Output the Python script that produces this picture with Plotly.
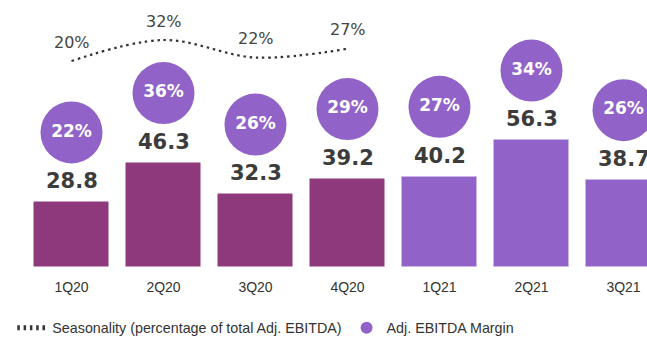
import plotly.graph_objects as go

# ---- data ----
quarters = ["1Q20", "2Q20", "3Q20", "4Q20", "1Q21", "2Q21", "3Q21"]
adj_ebitda = [28.8, 46.3, 32.3, 39.2, 40.2, 56.3, 38.7]
margin_pct = [22, 36, 26, 29, 27, 34, 26]
season_quarters = ["1Q20", "2Q20", "3Q20", "4Q20"]
seasonality = [20, 32, 22, 27]

# ---- styles ----
C2020 = "#8e397b"
C2021 = "#9163c8"
TXT = "#3c3c3c"
bar_colors = [C2020 if q.endswith("20") else C2021 for q in quarters]
bar_lines = ["rgba(0,0,0,0)" if q.endswith("20") else "#c9b6e8" for q in quarters]
BUBBLE_OFFSET = 31  # bubble sits above the bar top (in value units)

fig = go.Figure()

fig.add_trace(go.Bar(
    x=quarters, y=adj_ebitda, width=0.815,
    marker=dict(color=bar_colors, line=dict(color=bar_lines, width=1)),
    showlegend=False, hoverinfo="skip",
))

fig.add_trace(go.Scatter(
    x=season_quarters, y=seasonality, yaxis="y2",
    mode="lines", line=dict(color="#333333", width=2.2, dash="2.5px,3.8px", shape="spline", smoothing=1.0),
    name="Seasonality (percentage of total Adj. EBITDA)",
    cliponaxis=False, hoverinfo="skip",
))

fig.add_trace(go.Scatter(
    x=quarters, y=[v + BUBBLE_OFFSET for v in adj_ebitda],
    mode="markers+text",
    marker=dict(size=62, color=C2021, line=dict(width=0)),
    text=[f"{m}%" for m in margin_pct], textposition="middle center",
    textfont=dict(family="DejaVu Sans", size=17, color="white", weight="bold"),
    name="Adj. EBITDA Margin", cliponaxis=False, hoverinfo="skip",
))

annotations = []
for q, v in zip(quarters, adj_ebitda):
    annotations.append(dict(
        x=q, y=v, xref="x", yref="y", text=f"{v:.1f}", showarrow=False,
        yanchor="middle", yshift=21,
        font=dict(family="DejaVu Sans", size=21, color=TXT, weight="bold"),
    ))
for q, s in zip(season_quarters, seasonality):
    annotations.append(dict(
        x=q, y=s, xref="x", yref="y2", text=f"{s}%", showarrow=False,
        yanchor="middle", yshift=19,
        font=dict(family="DejaVu Sans", size=16, color="#444444"),
    ))

fig.update_layout(
    width=647, height=337,
    margin=dict(l=0, r=0, t=0, b=70),
    plot_bgcolor="white", paper_bgcolor="white",
    xaxis=dict(
        type="category", categoryorder="array", categoryarray=quarters,
        range=[-0.7772, 6.2554], showgrid=False, showline=False, zeroline=False,
        ticks="", ticklabelstandoff=10, automargin=False,
        tickfont=dict(family="Liberation Sans", size=14, color="#333333"),
    ),
    yaxis=dict(range=[0, 118.67], visible=False, showgrid=False),
    yaxis2=dict(range=[-97.7, 54.86], overlaying="y", visible=False, showgrid=False),
    legend=dict(
        orientation="h", x=0.019, xanchor="left", xref="container",
        y=0.027, yanchor="middle", yref="container",
        font=dict(family="Liberation Sans", size=14.3, color="#333333"),
        itemsizing="constant", bgcolor="rgba(0,0,0,0)",
    ),
    annotations=annotations,
    bargap=0,
)

fig.write_html("out.html")
